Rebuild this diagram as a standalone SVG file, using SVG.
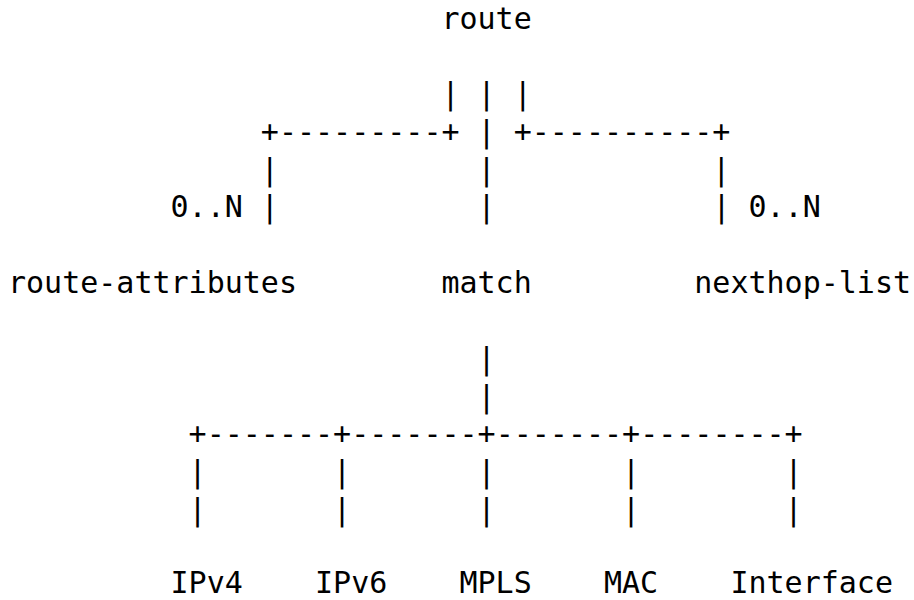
<svg xmlns="http://www.w3.org/2000/svg" width="914" height="600" viewBox="0 0 914 600">
<style>
text{font-family:"DejaVu Sans Mono","Liberation Mono",monospace;font-size:30px;fill:#000;white-space:pre}
</style>
<rect x="0" y="0" width="914" height="600" fill="#fff"/>
<g id="connectors">
<text x="441.44" y="103.9" xml:space="preserve">| | |</text>
<text x="260.84" y="141.7" xml:space="preserve">+---------+ | +----------+</text>
<text x="260.84" y="179.5" xml:space="preserve">|           |            |</text>
<text x="170.54" y="217.3" xml:space="preserve">0..N |           |            | 0..N</text>
<text x="477.56" y="368.7">|</text>
<text x="477.56" y="406.5">|</text>
<text x="188.6" y="444.3" xml:space="preserve">+-------+-------+-------+--------+</text>
<text x="188.6" y="482.1" xml:space="preserve">|       |       |       |        |</text>
<text x="188.6" y="519.9" xml:space="preserve">|       |       |       |        |</text>
</g>
<g id="route"><text x="441.44" y="28.5">route</text></g>
<g id="route-attributes"><text x="8" y="293.1">route-attributes</text></g>
<g id="match"><text x="441.44" y="293.1">match</text></g>
<g id="nexthop-list"><text x="694.28" y="293.1">nexthop-list</text></g>
<g id="ipv4"><text x="170.54" y="592.8">IPv4</text></g>
<g id="ipv6"><text x="315.02" y="592.8">IPv6</text></g>
<g id="mpls"><text x="459.5" y="592.8">MPLS</text></g>
<g id="mac"><text x="603.98" y="592.8">MAC</text></g>
<g id="interface"><text x="730.4" y="592.8">Interface</text></g>
</svg>
